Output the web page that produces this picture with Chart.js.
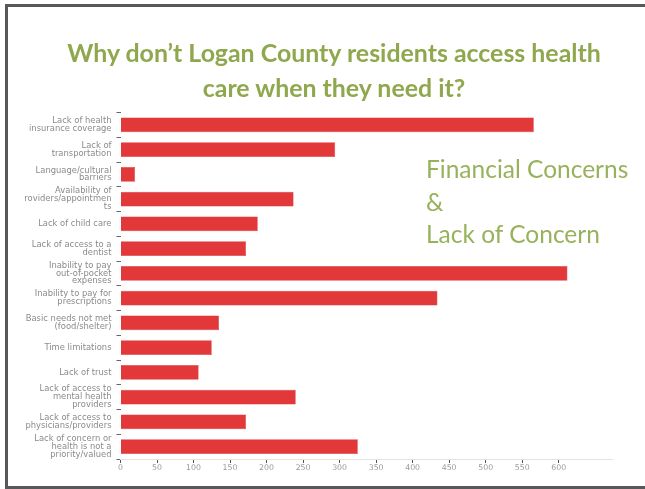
<!DOCTYPE html>
<html>
<head>
<meta charset="utf-8">
<script src="https://cdn.jsdelivr.net/npm/chart.js@4.4.1/dist/chart.umd.min.js"></script>
<style>
  html, body { margin: 0; padding: 0; background: #fff; }
  #wrap { position: relative; width: 645px; height: 489px; overflow: hidden; background: #fff; }
  #frameTop { position: absolute; left: 5px; top: 4px; width: 640px; height: 3px; background: #58585a; }
  #frameLeft { position: absolute; left: 5px; top: 4px; width: 3px; height: 485px; background: #58585a; }
  #frameBottom { position: absolute; left: 5px; top: 486px; width: 640px; height: 3px; background: #58585a; }
  #title { position: absolute; left: 0; top: 35px; width: 668px; text-align: center;
           font-family: Lato, "Open Sans", sans-serif; font-weight: bold; font-size: 24.9px;
           line-height: 35px; color: #8fa84e; }
  #note { position: absolute; left: 426px; top: 153px; font-family: Lato, "Open Sans", sans-serif;
          font-size: 24.5px; line-height: 32.5px; color: #98b25c; }
  canvas { position: absolute; left: 0; top: 0; }
</style>
</head>
<body>
<div id="wrap">
  <canvas id="c" width="645" height="489"></canvas>
  <div id="frameTop"></div>
  <div id="frameLeft"></div>
  <div id="frameBottom"></div>
  <div id="title">Why don’t Logan County residents access health<br>care when they need it?</div>
  <div id="note">Financial Concerns<br>&amp;<br>Lack of Concern</div>
</div>
<script>
// Reasons residents give for not accessing health care (number of responses)
const reasons = [
  ["Lack of health", "insurance coverage"],
  ["Lack of", "transportation"],
  ["Language/cultural", "barriers"],
  ["Availability of", "roviders/appointmen", "ts"],
  ["Lack of child care"],
  ["Lack of access to a", "dentist"],
  ["Inability to pay", "out-of-pocket", "expenses"],
  ["Inability to pay for", "prescriptions"],
  ["Basic needs not met", "(food/shelter)"],
  ["Time limitations"],
  ["Lack of trust"],
  ["Lack of access to", "mental health", "providers"],
  ["Lack of access to", "physicians/providers"],
  ["Lack of concern or", "health is not a", "priority/valued"]
];
const responses = [566, 294, 20, 237, 188, 172, 612, 434, 135, 125, 107, 240, 172, 325];
const xTickStep = 50;
const xMax = 673;

new Chart(document.getElementById('c'), {
  type: 'bar',
  data: {
    labels: reasons,
    datasets: [{
      data: responses,
      backgroundColor: '#e3383a',
      borderColor: '#d42f31',
      borderWidth: 0.5,
      categoryPercentage: 1,
      barPercentage: 0.59
    }]
  },
  options: {
    indexAxis: 'y',
    responsive: false,
    animation: false,
    devicePixelRatio: 1,
    layout: { padding: { top: 112.5, right: 33, left: 0, bottom: 0 } },
    plugins: { legend: { display: false }, tooltip: { enabled: false }, title: { display: false } },
    scales: {
      x: {
        min: 0,
        max: xMax,
        afterBuildTicks: s => { s.ticks = s.ticks.filter(t => t.value % xTickStep === 0); },
        afterFit: s => { s.height = 30; },
        border: { display: true, color: '#e2e2e2', width: 1 },
        grid: { drawOnChartArea: false, drawTicks: true, tickLength: 4, color: '#555' },
        ticks: { stepSize: xTickStep, padding: 0, color: '#9a9a9a',
                 font: { family: 'DejaVu Sans', size: 7.8 } }
      },
      y: {
        afterFit: s => { s.width = 120.5; },
        border: { display: false },
        grid: { drawOnChartArea: false, drawTicks: true, tickLength: 4, color: '#666', offset: true },
        ticks: { padding: 5, color: '#8a8a8a', autoSkip: false,
                 font: { family: 'DejaVu Sans', size: 8.4, lineHeight: 0.93 } }
      }
    }
  }
});
</script>
</body>
</html>
